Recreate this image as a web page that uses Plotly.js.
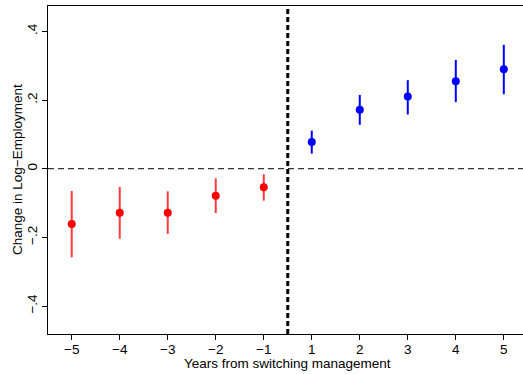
<!DOCTYPE html>
<html>
<head>
<meta charset="utf-8">
<script src="https://cdn.plot.ly/plotly-3.0.1.min.js"></script>
<style>
  html, body { margin: 0; padding: 0; background: #fff; }
  #chart { width: 523px; height: 374px; }
</style>
</head>
<body>
<div id="chart"></div>
<script>
// Categories (years from switching management)
const preYears = ['\u22125', '\u22124', '\u22123', '\u22122', '\u22121'];
const postYears = ['1', '2', '3', '4', '5'];
const allYears = preYears.concat(postYears);

// Point estimates
const preEst = [-0.161, -0.128, -0.128, -0.079, -0.054];
const postEst = [0.078, 0.172, 0.210, 0.255, 0.290];

// Confidence interval bounds
const preHi = [-0.065, -0.053, -0.066, -0.028, -0.016];
const preLo = [-0.258, -0.204, -0.190, -0.129, -0.093];
const postHi = [0.111, 0.215, 0.258, 0.317, 0.361];
const postLo = [0.044, 0.128, 0.158, 0.194, 0.217];

// Y tick values and labels
const yTickVals = [-0.4, -0.2, 0, 0.2, 0.4];
const yTickText = ['\u2212.4', '\u2212.2', '0', '.2', '.4'];

// Axis titles
const xTitle = 'Years from switching management';
const yTitle = 'Change in Log\u2212Employment';

function ciArrays(est, hi, lo) {
  return {
    plus: est.map((v, i) => hi[i] - v),
    minus: est.map((v, i) => v - lo[i])
  };
}
const preCI = ciArrays(preEst, preHi, preLo);
const postCI = ciArrays(postEst, postHi, postLo);

const traces = [
  {
    x: preYears, y: preEst, type: 'scatter', mode: 'markers',
    marker: { color: '#ff0000', size: 8 },
    error_y: { type: 'data', symmetric: false, array: preCI.plus, arrayminus: preCI.minus,
               color: '#ff3a3a', thickness: 2, width: 0 },
    showlegend: false, hoverinfo: 'skip'
  },
  {
    x: postYears, y: postEst, type: 'scatter', mode: 'markers',
    marker: { color: '#0000ff', size: 8 },
    error_y: { type: 'data', symmetric: false, array: postCI.plus, arrayminus: postCI.minus,
               color: '#0000ff', thickness: 2, width: 0 },
    showlegend: false, hoverinfo: 'skip'
  }
];

const fam = 'Liberation Sans, Arial, sans-serif';
const fs = 13.5;

const layout = {
  width: 523, height: 374,
  margin: { l: 48, r: 0, t: 6, b: 40 },
  paper_bgcolor: '#fff', plot_bgcolor: '#fff',
  font: { family: fam, size: fs, color: '#000' },
  xaxis: {
    type: 'category',
    categoryorder: 'array', categoryarray: allYears,
    range: [-0.494, 9.40],
    showgrid: false, zeroline: false,
    showline: true, linecolor: '#000', linewidth: 1.3, mirror: true,
    ticks: 'outside', ticklen: 5, tickwidth: 1, tickcolor: '#000',
    ticklabelstandoff: -3,
    tickfont: { family: fam, size: fs, color: '#000' }
  },
  yaxis: {
    range: [-0.4815, 0.474],
    tickvals: yTickVals, ticktext: yTickText,
    tickangle: -90,
    showgrid: false, zeroline: false,
    showline: true, linecolor: '#000', linewidth: 1.3, mirror: false,
    ticks: 'outside', ticklen: 5, tickwidth: 1, tickcolor: '#000',
    ticklabelstandoff: -1,
    tickfont: { family: fam, size: fs, color: '#000' }
  },
  annotations: [
    { text: xTitle, xref: 'paper', yref: 'paper', x: 0.5, y: 0,
      xanchor: 'center', yanchor: 'middle', xshift: 2, yshift: -29,
      showarrow: false, font: { family: fam, size: fs, color: '#000' } },
    { text: yTitle, xref: 'paper', yref: 'paper', x: 0, y: 0.5,
      xanchor: 'center', yanchor: 'middle', xshift: -31, yshift: 0, textangle: -90,
      showarrow: false, font: { family: fam, size: fs, color: '#000' } }
  ],
  shapes: [
    { type: 'line', xref: 'paper', yref: 'y', x0: 0, x1: 1, y0: 0, y1: 0,
      line: { color: '#333', width: 1.2, dash: '6px,4px' }, layer: 'below' },
    { type: 'line', xref: 'x', yref: 'paper', x0: 4.5, x1: 4.5, y0: 0, y1: 1,
      line: { color: '#000', width: 3, dash: '5px,3px' }, layer: 'above' }
  ]
};

Plotly.newPlot('chart', traces, layout, { displayModeBar: false, staticPlot: true });
</script>
</body>
</html>
